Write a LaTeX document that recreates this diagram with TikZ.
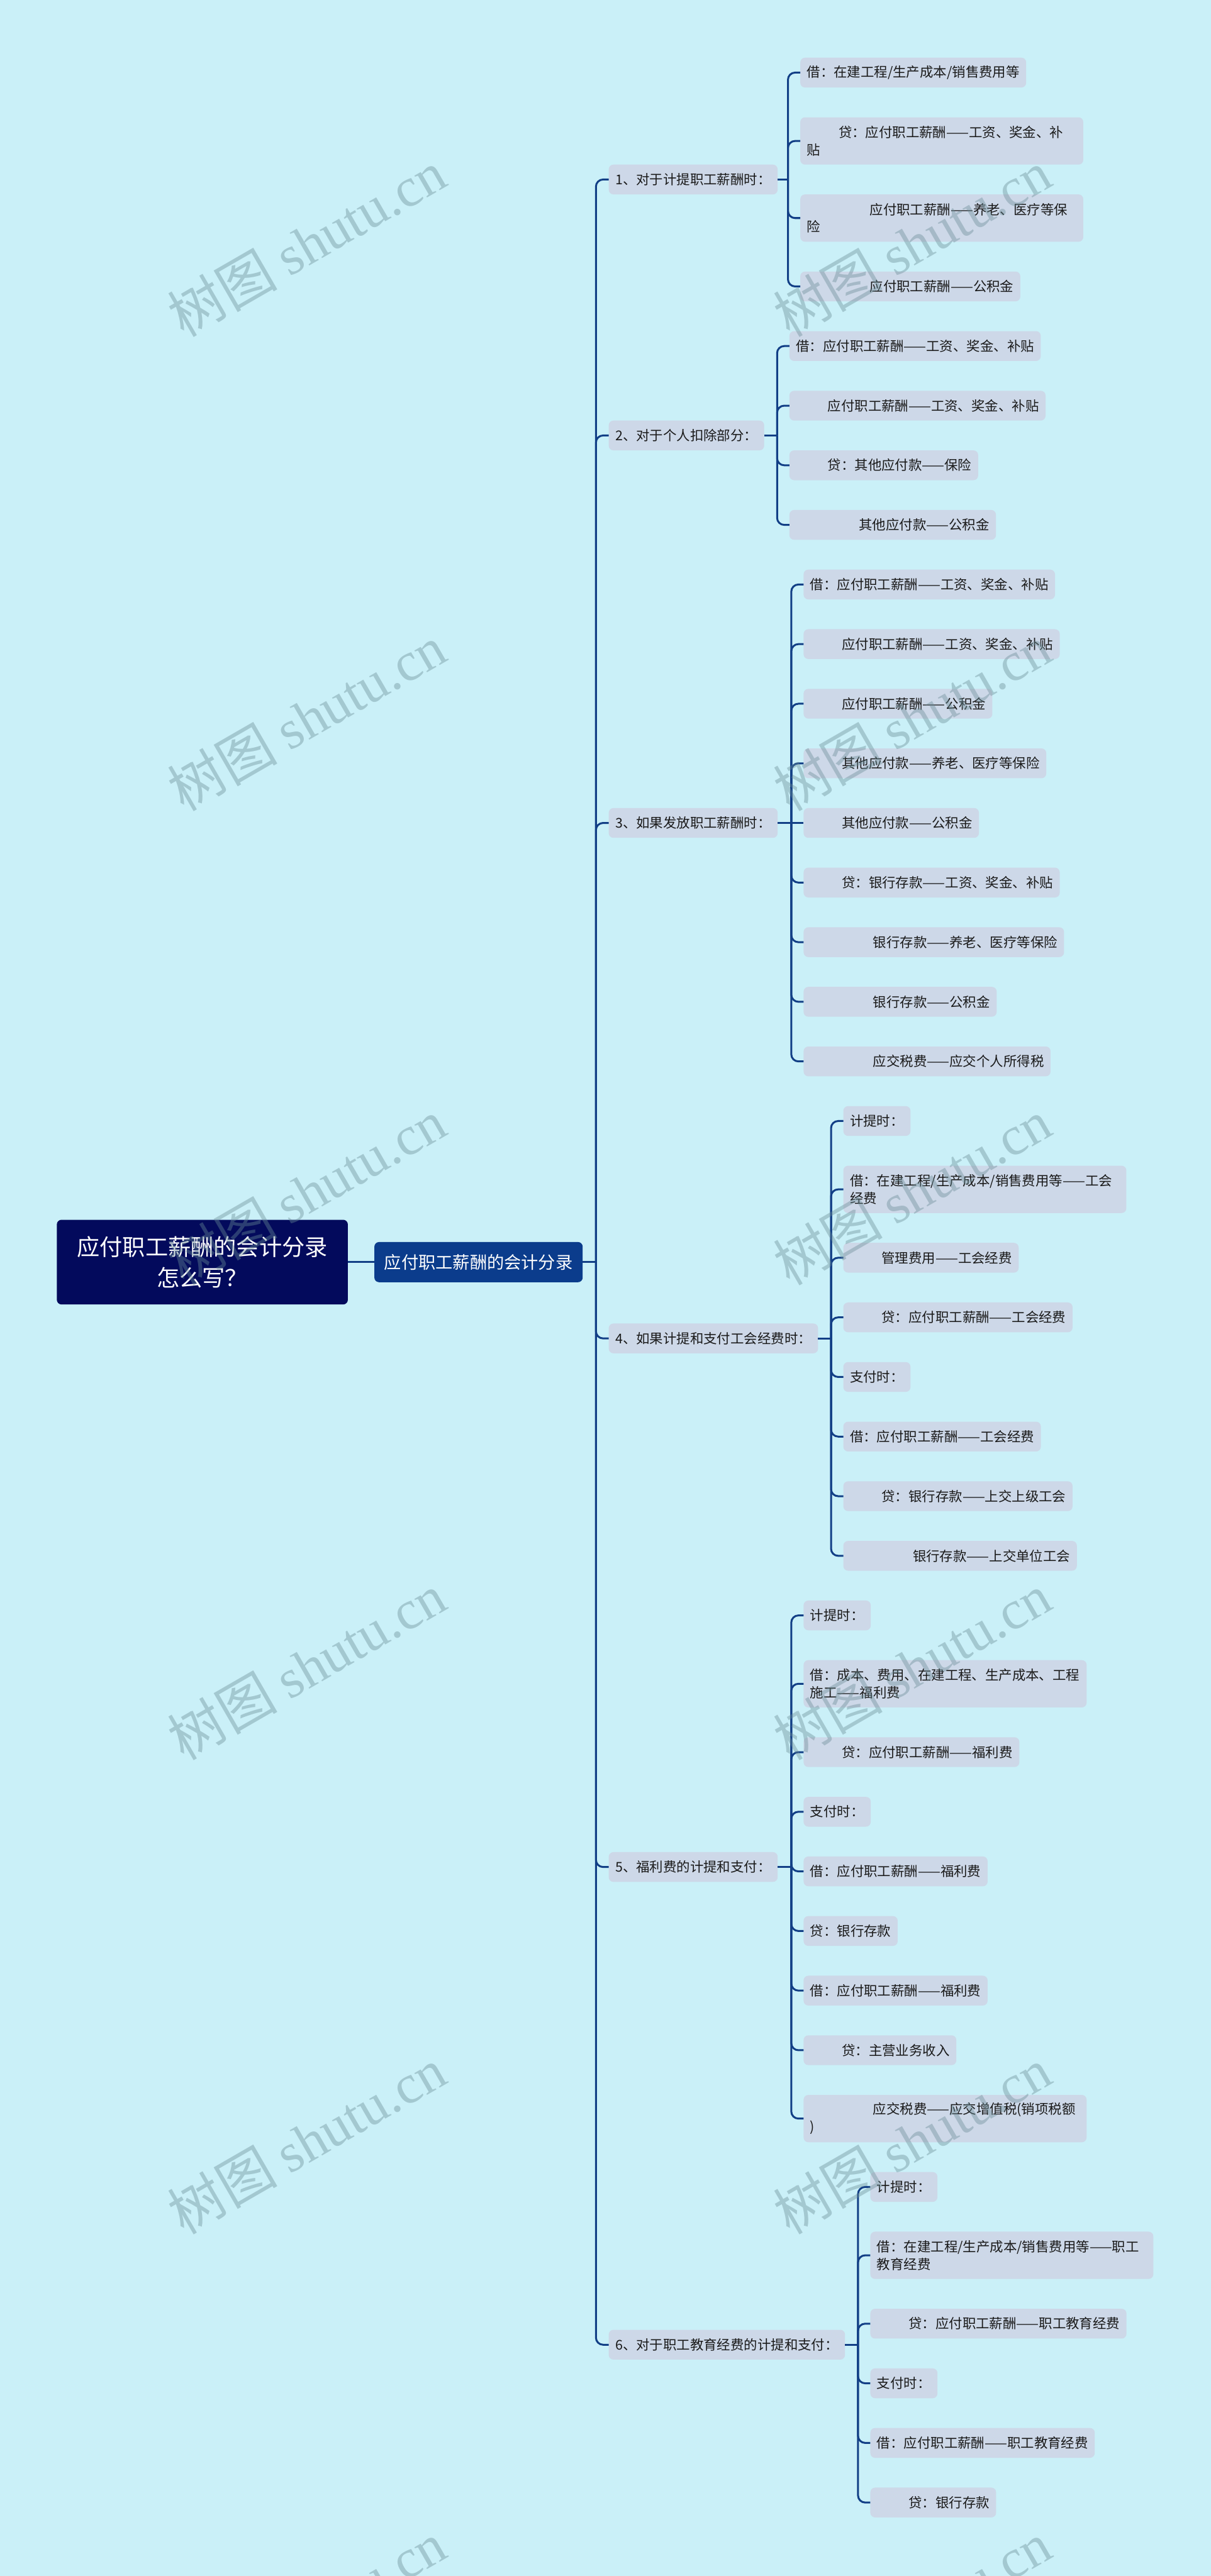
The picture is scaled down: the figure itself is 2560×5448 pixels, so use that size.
\documentclass[tikz,border=0pt]{standalone}
\usepackage{fontspec}
\setmainfont{Noto Sans CJK SC}
\newfontfamily\latinserif{Liberation Serif}
\usetikzlibrary{positioning, calc}

\definecolor{canvas}{HTML}{CAF0F8}
\definecolor{rootblue}{HTML}{030A5C}
\definecolor{topicblue}{HTML}{0B3C8C}
\definecolor{linkblue}{HTML}{123F86}
\definecolor{leafgray}{HTML}{CDD8E8}
\definecolor{inkgray}{HTML}{1A1A1A}
\definecolor{stampgray}{RGB}{105,140,150}

\tikzset{
  box/.style = {rounded corners = 0.1cm, outer sep = 0pt,
    inner xsep = 0.14cm, inner ysep = 0.08cm},
  root/.style = {box, fill = rootblue, text = white, align = center,
    minimum width = 6.15cm, minimum height = 1.79cm,
    font = \fontsize{13.7pt}{18.8pt}\selectfont},
  topic/.style = {box, fill = topicblue, text = white, inner xsep = 0.21cm,
    minimum height = 0.85cm, font = \fontsize{10.3pt}{12pt}\selectfont},
  branch/.style = {box, fill = leafgray, text = inkgray, minimum height = 0.63cm,
    font = \fontsize{8.1pt}{10.5pt}\selectfont},
  leaf/.style = {branch, align = left, anchor = north west},
  wrapped/.style = {leaf, text width = 5.70cm, minimum height = 1cm},
  stack/.style = {below = 0.63cm of #1.south west, anchor = north west},
  link/.style = {draw = linkblue, line width = 0.04cm, rounded corners = 0.15cm,
    to path = {|- (\tikztotarget)}},
  stamp/.style = {rotate = 30, text = stampgray, text opacity = 0.4,
    font = \fontsize{33pt}{33pt}\selectfont}
}

\begin{document}
\begin{tikzpicture}[x = 0.01cm, y = -0.01cm]

%% Canvas
\useasboundingbox (0,0) rectangle (2560,5448);
\fill [canvas] (0,0) rectangle (2560,5448);

%% Leaves of 1
\node [leaf] (b1a) at (1692,122) {借：在建工程/生产成本/销售费用等};
\node [wrapped, stack = b1a] (b1b) {\hspace*{0.67cm}贷：应付职工薪酬——工资、奖金、补\\贴};
\node [wrapped, stack = b1b] (b1c) {\hspace*{1.33cm}应付职工薪酬——养老、医疗等保\\险};
\node [leaf, stack = b1c] (b1d) {\hspace*{1.33cm}应付职工薪酬——公积金};

%% Leaves of 2
\node [leaf, stack = b1d, xshift = -0.23cm] (b2a) {借：应付职工薪酬——工资、奖金、补贴};
\node [leaf, stack = b2a] (b2b) {\hspace*{0.67cm}应付职工薪酬——工资、奖金、补贴};
\node [leaf, stack = b2b] (b2c) {\hspace*{0.67cm}贷：其他应付款——保险};
\node [leaf, stack = b2c] (b2d) {\hspace*{1.33cm}其他应付款——公积金};

%% Leaves of 3
\node [leaf, stack = b2d, xshift = 0.30cm] (b3a) {借：应付职工薪酬——工资、奖金、补贴};
\node [leaf, stack = b3a] (b3b) {\hspace*{0.67cm}应付职工薪酬——工资、奖金、补贴};
\node [leaf, stack = b3b] (b3c) {\hspace*{0.67cm}应付职工薪酬——公积金};
\node [leaf, stack = b3c] (b3d) {\hspace*{0.67cm}其他应付款——养老、医疗等保险};
\node [leaf, stack = b3d] (b3e) {\hspace*{0.67cm}其他应付款——公积金};
\node [leaf, stack = b3e] (b3f) {\hspace*{0.67cm}贷：银行存款——工资、奖金、补贴};
\node [leaf, stack = b3f] (b3g) {\hspace*{1.33cm}银行存款——养老、医疗等保险};
\node [leaf, stack = b3g] (b3h) {\hspace*{1.33cm}银行存款——公积金};
\node [leaf, stack = b3h] (b3i) {\hspace*{1.33cm}应交税费——应交个人所得税};

%% Leaves of 4
\node [leaf, stack = b3i, xshift = 0.84cm] (b4a) {计提时：};
\node [wrapped, stack = b4a] (b4b) {借：在建工程/生产成本/销售费用等——工会\\经费};
\node [leaf, stack = b4b] (b4c) {\hspace*{0.67cm}管理费用——工会经费};
\node [leaf, stack = b4c] (b4d) {\hspace*{0.67cm}贷：应付职工薪酬——工会经费};
\node [leaf, stack = b4d] (b4e) {支付时：};
\node [leaf, stack = b4e] (b4f) {借：应付职工薪酬——工会经费};
\node [leaf, stack = b4f] (b4g) {\hspace*{0.67cm}贷：银行存款——上交上级工会};
\node [leaf, stack = b4g] (b4h) {\hspace*{1.33cm}银行存款——上交单位工会};

%% Leaves of 5
\node [leaf, stack = b4h, xshift = -0.84cm] (b5a) {计提时：};
\node [wrapped, stack = b5a] (b5b) {借：成本、费用、在建工程、生产成本、工程\\施工——福利费};
\node [leaf, stack = b5b] (b5c) {\hspace*{0.67cm}贷：应付职工薪酬——福利费};
\node [leaf, stack = b5c] (b5d) {支付时：};
\node [leaf, stack = b5d] (b5e) {借：应付职工薪酬——福利费};
\node [leaf, stack = b5e] (b5f) {贷：银行存款};
\node [leaf, stack = b5f] (b5g) {借：应付职工薪酬——福利费};
\node [leaf, stack = b5g] (b5h) {\hspace*{0.67cm}贷：主营业务收入};
\node [wrapped, stack = b5h] (b5i) {\hspace*{1.33cm}应交税费——应交增值税(销项税额\\)};

%% Leaves of 6
\node [leaf, stack = b5i, xshift = 1.41cm] (b6a) {计提时：};
\node [wrapped, stack = b6a] (b6b) {借：在建工程/生产成本/销售费用等——职工\\教育经费};
\node [leaf, stack = b6b] (b6c) {\hspace*{0.67cm}贷：应付职工薪酬——职工教育经费};
\node [leaf, stack = b6c] (b6d) {支付时：};
\node [leaf, stack = b6d] (b6e) {借：应付职工薪酬——职工教育经费};
\node [leaf, stack = b6e] (b6f) {\hspace*{0.67cm}贷：银行存款};

%% Branches
\coordinate (col) at (1287,0);
\node [branch, anchor = west] (b1) at ($(col |- b1a.west)!0.5!(col |- b1d.west)$) {1、对于计提职工薪酬时：};
\node [branch, anchor = west] (b2) at ($(col |- b2a.west)!0.5!(col |- b2d.west)$) {2、对于个人扣除部分：};
\node [branch, anchor = west] (b3) at ($(col |- b3a.west)!0.5!(col |- b3i.west)$) {3、如果发放职工薪酬时：};
\node [branch, anchor = west] (b4) at ($(col |- b4a.west)!0.5!(col |- b4h.west)$) {4、如果计提和支付工会经费时：};
\node [branch, anchor = west] (b5) at ($(col |- b5a.west)!0.5!(col |- b5i.west)$) {5、福利费的计提和支付：};
\node [branch, anchor = west] (b6) at ($(col |- b6a.west)!0.5!(col |- b6f.west)$) {6、对于职工教育经费的计提和支付：};

%% Topic and root
\coordinate (trunk) at ($(b1.west)!0.5!(b6.west) + (-0.27cm,0)$);
\node [topic, left = 0.28cm of trunk] (main) {应付职工薪酬的会计分录};
\node [root, left = 0.56cm of main] (root) {应付职工薪酬的会计分录\\怎么写？};

%% Links
\draw [link] (root.east) -- (main.west);
\draw [link] (main.east) -- (trunk);
\path [link] (trunk) edge (b1.west) edge (b2.west) edge (b3.west)
                     edge (b4.west) edge (b5.west) edge (b6.west);

\coordinate (b1j) at ($(b1a.west |- b1.east) + (-0.26cm,0)$);
\draw [link] (b1.east) -- (b1j);
\path [link] (b1j) edge (b1a.west) edge (b1b.west) edge (b1c.west) edge (b1d.west);

\coordinate (b2j) at ($(b2a.west |- b2.east) + (-0.26cm,0)$);
\draw [link] (b2.east) -- (b2j);
\path [link] (b2j) edge (b2a.west) edge (b2b.west) edge (b2c.west) edge (b2d.west);

\coordinate (b3j) at ($(b3a.west |- b3.east) + (-0.26cm,0)$);
\draw [link] (b3.east) -- (b3j) -- (b3e.west);
\path [link] (b3j) edge (b3a.west) edge (b3b.west) edge (b3c.west) edge (b3d.west)
                   edge (b3f.west) edge (b3g.west) edge (b3h.west) edge (b3i.west);

\coordinate (b4j) at ($(b4a.west |- b4.east) + (-0.26cm,0)$);
\draw [link] (b4.east) -- (b4j);
\path [link] (b4j) edge (b4a.west) edge (b4b.west) edge (b4c.west) edge (b4d.west)
                   edge (b4e.west) edge (b4f.west) edge (b4g.west) edge (b4h.west);

\coordinate (b5j) at ($(b5a.west |- b5.east) + (-0.26cm,0)$);
\draw [link] (b5.east) -- (b5j);
\path [link] (b5j) edge (b5a.west) edge (b5b.west) edge (b5c.west) edge (b5d.west)
                   edge (b5e.west) edge (b5f.west) edge (b5g.west) edge (b5h.west)
                   edge (b5i.west);

\coordinate (b6j) at ($(b6a.west |- b6.east) + (-0.26cm,0)$);
\draw [link] (b6.east) -- (b6j);
\path [link] (b6j) edge (b6a.west) edge (b6b.west) edge (b6c.west)
                   edge (b6d.west) edge (b6e.west) edge (b6f.west);

%% Watermark
\begin{scope}
  \clip (0,0) rectangle (2560,5448);
  \foreach \y in {515, 1518, 2521, 3524, 4527, 5530}
    \foreach \x in {648, 1928}
      \node [stamp] (stamp-\x-\y) at (\x,\y) {树图 {\latinserif shutu.cn}};
\end{scope}

\end{tikzpicture}
\end{document}
